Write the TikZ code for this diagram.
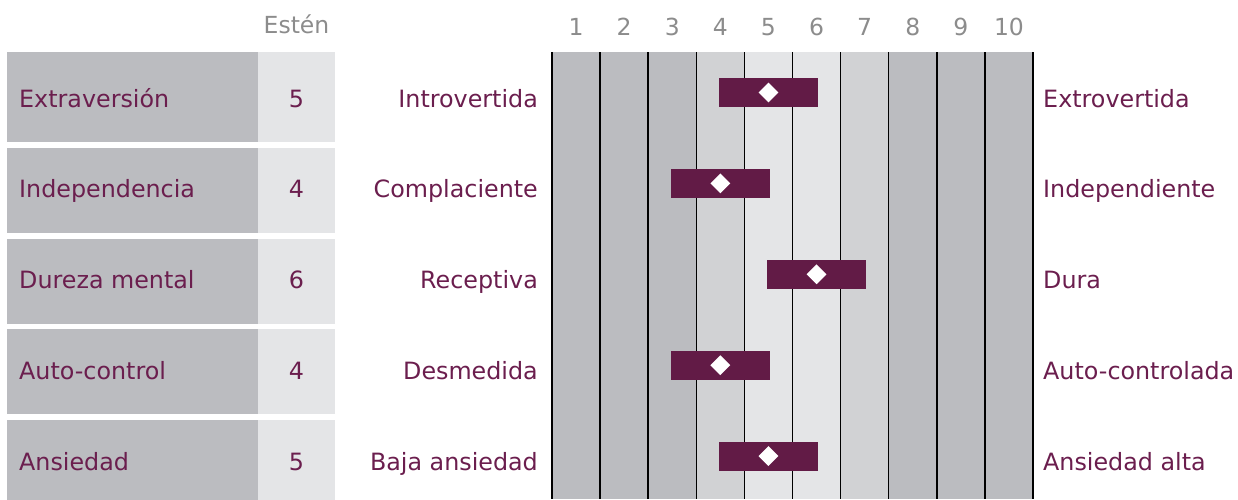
\documentclass[tikz,border=0pt]{standalone}
\usepackage{fontspec}
\setmainfont{DejaVu Sans}
\usetikzlibrary{shapes.geometric}
\definecolor{plum}{HTML}{6B1E4E}
\definecolor{barfill}{HTML}{621B46}
\definecolor{gdark}{HTML}{BBBCC0}
\definecolor{gmid}{HTML}{D1D2D4}
\definecolor{glight}{HTML}{E4E5E7}
\definecolor{ghead}{HTML}{8C8C8C}
\begin{document}
\begin{tikzpicture}[x=1pt,y=-1pt,
    lbl/.style={font=\fontsize{23.8}{28}\selectfont, text=plum, inner sep=0pt},
    head/.style={font=\fontsize{23.5}{28}\selectfont, text=ghead, inner sep=0pt, anchor=base},
    stenbar/.style={fill=barfill, minimum width=99pt, minimum height=29pt, inner sep=0pt},
    stenmark/.style={diamond, fill=white, minimum size=20pt, inner sep=0pt}]
\useasboundingbox (0,0) rectangle (1238,499);

% scale columns
\foreach \c [count=\i] in {gdark,gdark,gdark,gmid,glight,glight,gmid,gdark,gdark,gdark}{
  \fill[\c] ({552+48.1*(\i-1)},52) rectangle ++(48.1,447);
  \node[head] (col\i) at ({552+48.1*(\i-0.5)},35) {\i};
}
\foreach \i in {0,...,10}
  \draw[line width=1.5pt] ({552+48.1*\i},52) -- ++(0,447);
\node[head] (sten) at (296.5,33) {Estén};

% rows
\foreach \name/\val/\lo/\hi/\top [count=\r] in {
    Extraversión/5/Introvertida/Extrovertida/52,
    Independencia/4/Complaciente/Independiente/148,
    Dureza mental/6/Receptiva/Dura/238.5,
    Auto-control/4/Desmedida/Auto-controlada/329,
    Ansiedad/5/Baja ansiedad/Ansiedad alta/419.5}{
  \pgfmathsetmacro\h{\r==1 ? 90 : 85}
  \pgfmathsetmacro\base{107+90.9*(\r-1)}
  \fill[gdark] (7,\top) rectangle (258,\top+\h);
  \fill[glight] (258,\top) rectangle (335,\top+\h);
  \node[lbl, anchor=base west] (trait\r) at (19,\base) {\name};
  \node[lbl, anchor=base] (score\r) at (296.5,\base) {\val};
  \node[lbl, anchor=base east] (low\r) at (538,\base) {\lo};
  \node[lbl, anchor=base west] (high\r) at (1043,\base) {\hi};
  \node[stenbar] (bar\r) at ({552+48.1*(\val-0.5)},\base-14.5) {};
  \node[stenmark] (mark\r) at (bar\r.center) {};
}
\end{tikzpicture}
\end{document}
